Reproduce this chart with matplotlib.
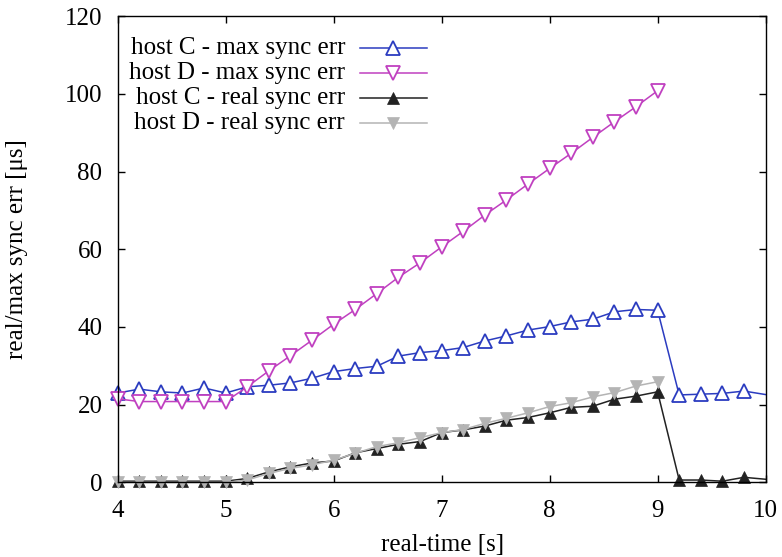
import numpy as np
import matplotlib
matplotlib.use('Agg')
import matplotlib.pyplot as plt

# sample times (s), one every 0.2 s
t_c = [4.0, 4.2, 4.4, 4.6, 4.8, 5.0, 5.2, 5.4, 5.6, 5.8, 6.0, 6.2, 6.4, 6.6, 6.8, 7.0,
       7.2, 7.4, 7.6, 7.8, 8.0, 8.2, 8.4, 8.6, 8.8, 9.0, 9.2, 9.4, 9.6, 9.8, 10.0]
t_d = t_c[:26]

c_max = [23.0, 24.0, 23.3, 23.0, 24.3, 23.0, 24.6, 25.0, 25.6, 26.8, 28.5, 29.3, 29.9, 32.5,
         33.4, 33.9, 34.7, 36.4, 37.7, 39.2, 40.1, 41.3, 42.0, 43.9, 44.5, 44.3,
         22.5, 22.7, 22.9, 23.5, 22.6]
d_max = [21.5, 20.8, 20.8, 20.8, 20.8, 20.8, 24.6, 28.7, 32.6, 36.6, 40.7, 44.5, 48.6,
         52.8, 56.5, 60.6, 64.6, 68.8, 72.7, 76.8, 80.8, 84.7, 88.8, 92.8, 96.7, 100.8]
c_real = [0.3, 0.3, 0.3, 0.3, 0.3, 0.3, 1.0, 2.7, 4.0, 5.0, 5.5, 7.6, 8.7, 9.8, 10.5,
          12.8, 13.5, 14.5, 16.0, 16.7, 17.9, 19.3, 19.6, 21.4, 22.2, 23.3,
          0.6, 0.6, 0.3, 1.3, 0.8]
d_real = [0.0, 0.0, 0.0, 0.0, 0.0, 0.0, 0.6, 2.3, 3.6, 4.5, 5.7, 7.5, 9.2, 10.2, 11.5,
          12.8, 13.6, 15.2, 16.5, 17.9, 19.5, 20.5, 22.0, 23.1, 24.8, 25.9]

labels = ['host C - max sync err', 'host D - max sync err',
          'host C - real sync err', 'host D - real sync err']
colors = ['#2b3cc0', '#c040c0', '#222222', '#b4b4b4']

plt.rcParams['font.family'] = ['Liberation Serif', 'DejaVu Serif']
plt.rcParams['font.size'] = 18

fig = plt.figure(figsize=(7.82, 5.57), dpi=100)
ax = fig.add_axes([0.1505, 0.134, 0.8285, 0.837])

styles = [
    dict(marker='^', mfc='white', ms=9.5, mew=1.3),
    dict(marker='v', mfc='white', ms=9.5, mew=1.3),
    dict(marker='^', ms=8, mew=0.5),
    dict(marker='v', ms=8, mew=0.5),
]
series = [(t_c, c_max), (t_d, d_max), (t_c, c_real), (t_d, d_real)]

for (xs, ys), col, st in zip(series, colors, styles):
    # last sample at the right border: line only, the marker falls outside the frame
    every = slice(0, 30) if len(xs) == 31 else None
    ax.plot(xs, ys, color=col, lw=1.1, mec=col, clip_on=False, markevery=every, **st)

# gnuplot-style key: text right-aligned, sample on the right
rows = [0.931, 0.877, 0.824, 0.770]
for lab, col, st, y in zip(labels, colors, styles, rows):
    ax.text(0.351, y, lab, transform=ax.transAxes, ha='right', va='center', fontsize=18)
    ax.plot([0.374, 0.425, 0.477], [y, y, y], transform=ax.transAxes, color=col,
            lw=1.1, mec=col, markevery=[1], **st)

ax.set_xlim(4, 10)
ax.set_ylim(0, 120)
ax.set_xticks(np.arange(4, 11, 1))
ax.set_yticks(np.arange(0, 121, 20))
ax.tick_params(direction='in', top=True, right=True, length=5, width=1, labelsize=18)
ax.tick_params(axis='y', pad=11)
ax.tick_params(axis='x', pad=13)
for sp in ax.spines.values():
    sp.set_linewidth(1.0)

ax.set_xlabel('real-time [s]', fontsize=18, va='center')
ax.set_ylabel('real/max sync err [μs]', fontsize=18, va='center')
ax.xaxis.set_label_coords(0.502, -0.134)
ax.yaxis.set_label_coords(-0.155, 0.5)

fig.savefig('out.png', dpi=100)
